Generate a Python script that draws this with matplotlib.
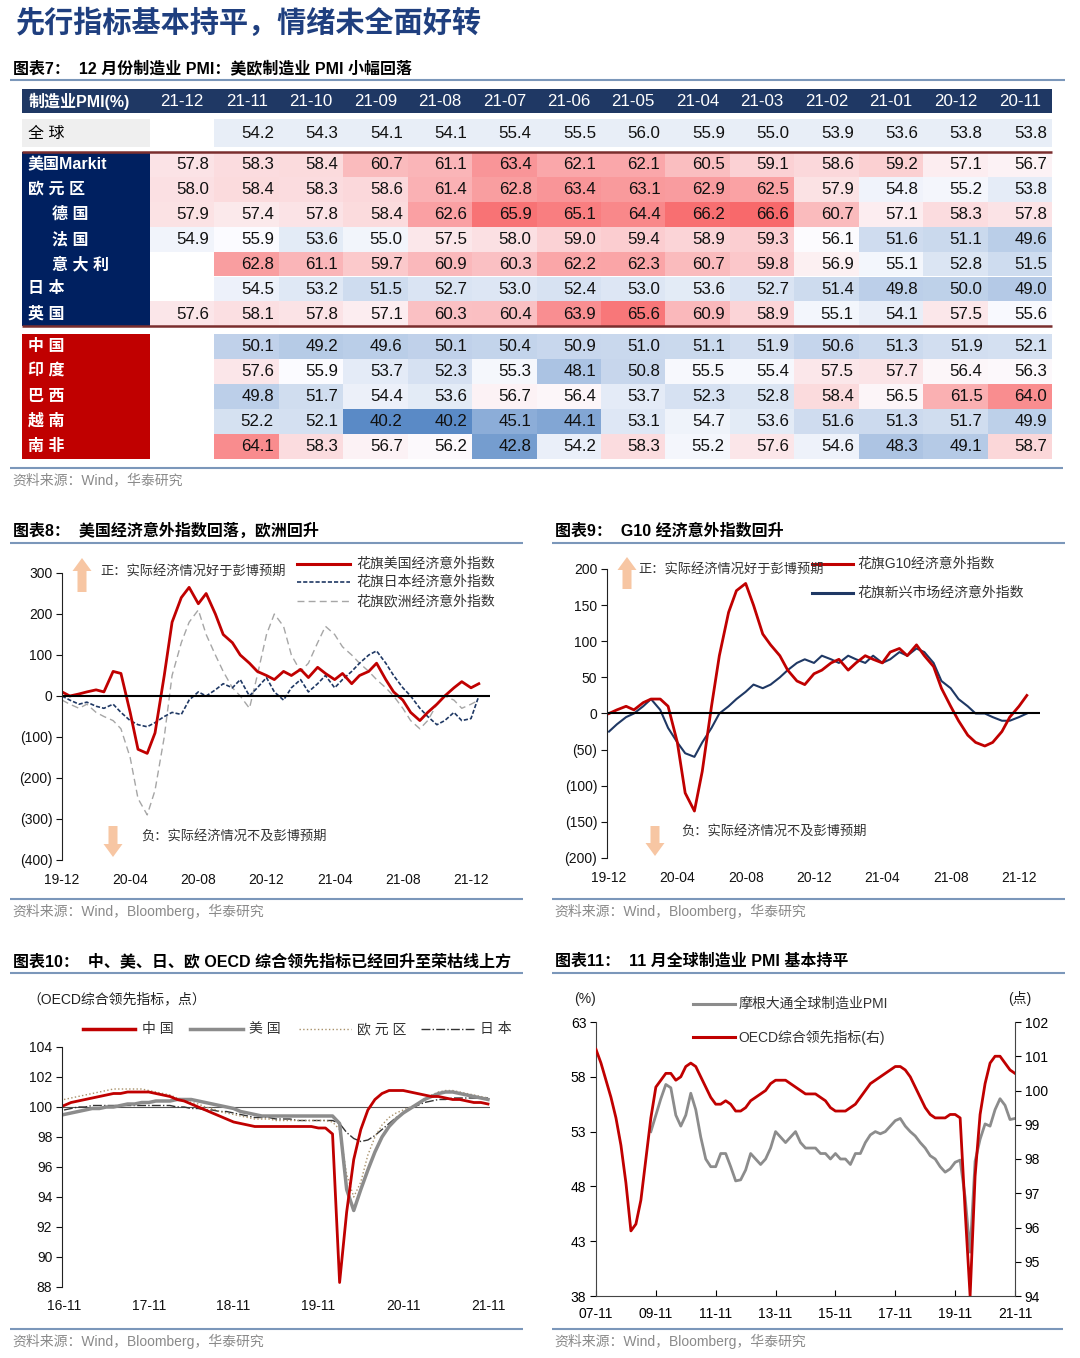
import numpy as np
import pandas as pd
import matplotlib
matplotlib.use('Agg')
import matplotlib.pyplot as plt
from matplotlib.patches import Rectangle, FancyArrow

plt.rcParams['font.family'] = ['Liberation Sans', 'Noto Sans CJK SC', 'DejaVu Sans']
plt.rcParams['axes.unicode_minus'] = False

W, H = 1080, 1358
nan = np.nan

# ---------------- Table (chart 7) data ----------------
table_cols = ['21-12', '21-11', '21-10', '21-09', '21-08', '21-07', '21-06',
              '21-05', '21-04', '21-03', '21-02', '21-01', '20-12', '20-11']
global_pmi = [nan, 54.2, 54.3, 54.1, 54.1, 55.4, 55.5, 56.0, 55.9, 55.0, 53.9, 53.6, 53.8, 53.8]
dev_labels = ['美国Markit', '欧元区', '德国', '法国', '意大利', '日本', '英国']
us_markit = [57.8, 58.3, 58.4, 60.7, 61.1, 63.4, 62.1, 62.1, 60.5, 59.1, 58.6, 59.2, 57.1, 56.7]
eurozone = [58.0, 58.4, 58.3, 58.6, 61.4, 62.8, 63.4, 63.1, 62.9, 62.5, 57.9, 54.8, 55.2, 53.8]
germany = [57.9, 57.4, 57.8, 58.4, 62.6, 65.9, 65.1, 64.4, 66.2, 66.6, 60.7, 57.1, 58.3, 57.8]
france = [54.9, 55.9, 53.6, 55.0, 57.5, 58.0, 59.0, 59.4, 58.9, 59.3, 56.1, 51.6, 51.1, 49.6]
italy = [nan, 62.8, 61.1, 59.7, 60.9, 60.3, 62.2, 62.3, 60.7, 59.8, 56.9, 55.1, 52.8, 51.5]
japan = [nan, 54.5, 53.2, 51.5, 52.7, 53.0, 52.4, 53.0, 53.6, 52.7, 51.4, 49.8, 50.0, 49.0]
uk = [57.6, 58.1, 57.8, 57.1, 60.3, 60.4, 63.9, 65.6, 60.9, 58.9, 55.1, 54.1, 57.5, 55.6]
em_labels = ['中国', '印度', '巴西', '越南', '南非']
china = [nan, 50.1, 49.2, 49.6, 50.1, 50.4, 50.9, 51.0, 51.1, 51.9, 50.6, 51.3, 51.9, 52.1]
india = [nan, 57.6, 55.9, 53.7, 52.3, 55.3, 48.1, 50.8, 55.5, 55.4, 57.5, 57.7, 56.4, 56.3]
brazil = [nan, 49.8, 51.7, 54.4, 53.6, 56.7, 56.4, 53.7, 52.3, 52.8, 58.4, 56.5, 61.5, 64.0]
vietnam = [nan, 52.2, 52.1, 40.2, 40.2, 45.1, 44.1, 53.1, 54.7, 53.6, 51.6, 51.3, 51.7, 49.9]
safrica = [nan, 64.1, 58.3, 56.7, 56.2, 42.8, 54.2, 58.3, 55.2, 57.6, 54.6, 48.3, 49.1, 58.7]
dev_rows = [us_markit, eurozone, germany, france, italy, japan, uk]
em_rows = [china, india, brazil, vietnam, safrica]

# ---------------- Chart 8 / 9 : Citi surprise indices (semi-monthly) ----------------
esi_dates = pd.date_range('2019-12-01', periods=50, freq='SMS')
us_esi = [10, 0, 5, 10, 15, 10, 60, 55, -40, -130, -140, -90, 50, 180, 240, 265, 225, 250, 200, 150,
          130, 100, 80, 60, 50, 40, 60, 50, 65, 45, 70, 55, 40, 55, 30, 50, 60, 80, 40, 10,
          -10, -40, -60, -40, -20, 0, 20, 35, 20, 30]
jp_esi = [0, -10, -20, -15, -25, -30, -20, -40, -60, -70, -75, -65, -50, -40, -45, -10, 10, 0, 15, 30,
          20, 40, 0, 20, 45, 10, -10, 20, 40, 10, 30, 50, 20, 40, 60, 80, 100, 110, 80, 50,
          20, 0, -30, -50, -70, -60, -40, -60, -55, 0]
eu_esi = [-10, -20, -30, -20, -40, -50, -60, -80, -150, -250, -290, -230, -100, 50, 130, 180, 210, 150, 100, 60,
          20, 0, -30, 50, 150, 200, 170, 100, 60, 80, 130, 170, 150, 120, 100, 80, 60, 40, 20, 0,
          -30, -60, -80, -60, -20, 0, -10, -30, -20, -10]
g10_esi = [0, 5, 10, 5, 15, 20, 20, 10, -40, -110, -135, -80, 10, 80, 140, 170, 180, 150, 110, 95,
           80, 60, 45, 40, 55, 60, 70, 75, 60, 70, 80, 75, 70, 85, 90, 80, 95, 80, 65, 35,
           10, -10, -30, -40, -45, -40, -25, -5, 10, 25]
em_esi = [-25, -15, -5, 0, 10, 20, 5, -20, -40, -55, -60, -40, -20, 0, 10, 20, 30, 40, 35, 40,
          50, 60, 70, 75, 70, 80, 75, 70, 80, 75, 70, 80, 70, 75, 85, 80, 90, 85, 70, 45,
          35, 20, 10, 0, 0, -5, -10, -10, -5, 0]
esi8_ticks = ['19-12', '20-04', '20-08', '20-12', '21-04', '21-08', '21-12']

# ---------------- Chart 10 : OECD CLI (monthly) ----------------
cli_dates = pd.date_range('2016-11-01', '2021-11-01', freq='MS')
cli_cn = [100.1, 100.3,
          100.4, 100.5, 100.6, 100.7, 100.8, 100.9, 100.9, 101.0, 101.0, 101.0, 101.0, 100.9,
          100.8, 100.7, 100.5, 100.4, 100.2, 100.0, 99.8, 99.6, 99.4, 99.2, 99.0, 98.9,
          98.8, 98.7, 98.7, 98.7, 98.7, 98.7, 98.7, 98.7, 98.7, 98.7, 98.6, 98.6,
          98.2, 88.3, 93.0, 96.5, 98.5, 99.8, 100.5, 100.9, 101.1, 101.1, 101.1, 101.0,
          100.9, 100.8, 100.7, 100.7, 100.6, 100.5, 100.5, 100.4, 100.3, 100.3, 100.2]
cli_us = [99.5, 99.6,
          99.7, 99.8, 99.9, 99.9, 100.0, 100.0, 100.1, 100.2, 100.2, 100.3, 100.3, 100.4,
          100.4, 100.4, 100.5, 100.5, 100.5, 100.4, 100.3, 100.2, 100.1, 100.0, 99.9, 99.7,
          99.6, 99.5, 99.4, 99.4, 99.4, 99.4, 99.4, 99.4, 99.4, 99.4, 99.4, 99.4,
          99.4, 98.9, 94.5, 93.1, 94.5, 95.8, 97.0, 98.0, 98.7, 99.2, 99.6, 99.9,
          100.2, 100.5, 100.7, 100.9, 101.0, 101.0, 100.9, 100.8, 100.7, 100.6, 100.5]
cli_eu = [100.5, 100.6,
          100.7, 100.8, 100.9, 101.0, 101.1, 101.2, 101.2, 101.2, 101.2, 101.2, 101.1, 101.0,
          100.9, 100.8, 100.6, 100.5, 100.3, 100.2, 100.0, 99.9, 99.7, 99.6, 99.5, 99.4,
          99.3, 99.2, 99.2, 99.2, 99.1, 99.1, 99.1, 99.1, 99.1, 99.1, 99.1, 99.1,
          99.0, 98.5, 95.5, 94.0, 95.0, 96.8, 98.0, 98.8, 99.3, 99.6, 99.8, 100.0,
          100.2, 100.5, 100.8, 101.0, 101.1, 101.1, 101.0, 100.9, 100.8, 100.7, 100.6]
cli_jp = [99.8, 99.9,
          100.0, 100.0, 100.1, 100.1, 100.1, 100.1, 100.1, 100.1, 100.1, 100.1, 100.1, 100.1,
          100.1, 100.1, 100.0, 100.0, 99.9, 99.9, 99.8, 99.8, 99.7, 99.7, 99.6, 99.5,
          99.4, 99.3, 99.3, 99.3, 99.2, 99.2, 99.2, 99.1, 99.1, 99.1, 99.1, 99.1,
          99.1, 98.9, 98.3, 97.9, 97.7, 97.8, 98.1, 98.5, 98.9, 99.3, 99.6, 99.9,
          100.1, 100.3, 100.4, 100.5, 100.5, 100.6, 100.6, 100.6, 100.6, 100.6, 100.6]
cli_ticks = ['16-11', '17-11', '18-11', '19-11', '20-11', '21-11']

# ---------------- Chart 11 : JPM global PMI & OECD CLI (bi-monthly) ----------------
g_dates = pd.date_range('2007-11-01', '2021-11-01', freq='2MS')
oecd_cli = [101.2,
            100.8, 100.3, 99.8, 99.2, 98.4, 97.3,
            95.9, 96.1, 96.8, 98.0, 99.2, 100.1,
            100.3, 100.5, 100.5, 100.3, 100.4, 100.7,
            100.8, 100.7, 100.4, 100.1, 99.8, 99.6,
            99.6, 99.7, 99.6, 99.4, 99.4, 99.5,
            99.7, 99.8, 99.9, 100.0, 100.2, 100.3,
            100.3, 100.3, 100.2, 100.1, 100.0, 99.9,
            99.9, 99.9, 99.8, 99.7, 99.5, 99.4,
            99.4, 99.4, 99.5, 99.6, 99.8, 100.0,
            100.2, 100.3, 100.4, 100.5, 100.6, 100.7,
            100.7, 100.6, 100.4, 100.1, 99.8, 99.5,
            99.3, 99.2, 99.2, 99.2, 99.3, 99.3,
            99.2, 96.5, 94.0, 97.5, 99.3, 100.2,
            100.8, 101.0, 101.0, 100.8, 100.6, 100.5]
jpm_pmi = [nan,
           nan, nan, nan, nan, nan, nan,
           nan, nan, nan, nan, 53.0, 54.5,
           56.0, 57.3, 57.0, 54.5, 53.5, 54.5,
           56.5, 55.0, 52.5, 50.5, 49.8, 49.8,
           51.0, 51.0, 49.8, 48.5, 48.6, 49.5,
           51.0, 50.5, 50.0, 50.5, 51.5, 53.0,
           52.5, 52.0, 52.5, 53.0, 52.0, 51.5,
           51.5, 51.5, 51.0, 51.0, 50.5, 51.0,
           50.5, 50.5, 50.0, 51.0, 51.0, 52.0,
           52.7, 53.0, 52.8, 53.0, 53.5, 54.0,
           54.2, 53.5, 53.0, 52.6, 52.0, 51.5,
           50.8, 50.5, 49.8, 49.3, 49.6, 50.2,
           50.4, 47.0, 42.0, 50.3, 52.3, 53.7,
           53.5, 55.0, 56.0, 55.4, 54.1, 54.2]
g_ticks = ['07-11', '09-11', '11-11', '13-11', '15-11', '17-11', '19-11', '21-11']

# ================= drawing =================
RED = '#c00000'
NAVY = '#1f3864'
GRAY = '#8c8c8c'
LINEC = '#7b97ba'
SRC = '#8a8a8a'

fig = plt.figure(figsize=(W / 100, H / 100), dpi=100)
cv = fig.add_axes([0, 0, 1, 1])
cv.set_xlim(0, W)
cv.set_ylim(H, 0)
cv.axis('off')


def txt(x, y, s, size=10, color='black', weight='normal', ha='left', va='center', **kw):
    cv.text(x, y, s, fontsize=size, color=color, fontweight=weight, ha=ha, va=va, **kw)


def hline(y, x0, x1, color=LINEC, lw=1.5, **kw):
    cv.plot([x0, x1], [y, y], color=color, lw=lw, solid_capstyle='butt', **kw)


def spaced(s):
    return ' '.join(list(s)) if all(ord(c) > 255 for c in s) else s


# Title
txt(16, 23, '先行指标基本持平，情绪未全面好转', size=21, color='#1f3f7f', weight='bold')
txt(13, 68, '图表7：  12 月份制造业 PMI：美欧制造业 PMI 小幅回落', size=11.5, weight='bold')
hline(80, 10, 1065)

# ---- table ----
tx0, tx1, lx0 = 150, 1052, 22
ncol = len(table_cols)
cw = (tx1 - tx0) / ncol
allv = np.array(dev_rows + em_rows, dtype=float)
vmin, vmax, vmid = np.nanmin(allv), np.nanmax(allv), 56.0
c_white = np.array([252, 252, 255]) / 255
c_blue = np.array([90, 138, 198]) / 255
c_red = np.array([248, 105, 107]) / 255


def cell_color(v):
    if np.isnan(v):
        return (1, 1, 1)
    if v <= vmid:
        t = (vmid - v) / (vmid - vmin)
        return tuple(c_white + t * (c_blue - c_white))
    t = (v - vmid) / (vmax - vmid)
    return tuple(c_white + t * (c_red - c_white))


FS_T = 12.2
# header
cv.add_patch(Rectangle((lx0, 89), tx1 - lx0, 24, color=NAVY, lw=0))
txt(29, 101.5, '制造业PMI(%)', size=11.5, color='white', weight='bold')
for j, c in enumerate(table_cols):
    txt(tx0 + cw * (j + 0.5), 101.5, c, size=FS_T, color='white', ha='center')


def draw_cells(y0, h, vals, fixed=None):
    for j, v in enumerate(vals):
        if np.isnan(v):
            continue
        col = fixed if fixed is not None else cell_color(v)
        cv.add_patch(Rectangle((tx0 + cw * j, y0), cw, h, color=col, lw=0))
        txt(tx0 + cw * (j + 1) - 5, y0 + h / 2 + 0.5, f'{v:.1f}', size=FS_T, color='#111111', ha='right')


# global row
cv.add_patch(Rectangle((lx0, 119), tx0 - lx0, 28, color='#efefef', lw=0))
txt(28, 133, spaced('全球'), size=11.5, color='black')
draw_cells(119, 28, global_pmi, fixed='#e8eef7')

# developed
dy0, dh = 152, 24.9
cv.add_patch(Rectangle((lx0, dy0), tx0 - lx0, dh * len(dev_rows), color='#002060', lw=0))
indent = {'德国', '法国', '意大利'}
for i, (lab, vals) in enumerate(zip(dev_labels, dev_rows)):
    y = dy0 + dh * i
    draw_cells(y, dh, vals)
    txt(52 if lab in indent else 28, y + dh / 2, spaced(lab), size=11.5, color='white', weight='bold')
hline(dy0, lx0, tx1, color='#7a2e2e', lw=1.8)
hline(dy0 + dh * len(dev_rows), lx0, tx1, color='#7a2e2e', lw=1.8)

# emerging
ey0, eh = 333.5, 25.0
cv.add_patch(Rectangle((lx0, ey0), tx0 - lx0, eh * len(em_rows), color=RED, lw=0))
for i, (lab, vals) in enumerate(zip(em_labels, em_rows)):
    y = ey0 + eh * i
    draw_cells(y, eh, vals)
    txt(28, y + eh / 2, spaced(lab), size=11.5, color='white', weight='bold')

hline(468, 10, 1063)
txt(12, 480, '资料来源：Wind，华泰研究', size=10, color=SRC)


# ---- helpers for charts ----
def px_axes(x0, y0, x1, y1):
    ax = fig.add_axes([x0 / W, 1 - y1 / H, (x1 - x0) / W, (y1 - y0) / H])
    ax.patch.set_alpha(0)
    return ax


def months_since(dates, y0, m0):
    return np.array([(d.year - y0) * 12 + (d.month - m0) + (d.day - 1) / 30.5 for d in dates])


def paren(v):
    v = int(round(v))
    return f'({abs(v)})' if v < 0 else f'{v}'


def style_left(ax):
    for s in ['top', 'right', 'bottom']:
        ax.spines[s].set_visible(False)
    ax.spines['left'].set_color('#222222')
    ax.spines['left'].set_linewidth(0.8)
    ax.tick_params(axis='y', direction='out', length=4, width=0.8, labelsize=10, pad=3, colors='#111111')
    ax.tick_params(axis='x', length=0, labelsize=10, pad=9, colors='#111111')


def up_arrow(x, y_tail, y_tip):
    cv.add_patch(FancyArrow(x, y_tail, 0, y_tip - y_tail, width=9, head_width=19, head_length=13,
                            length_includes_head=True, color='#f7c6a3', lw=0))


# ---- Chart 8 ----
txt(13, 531, '图表8：  美国经济意外指数回落，欧洲回升', size=11.5, weight='bold')
hline(543, 10, 523)
ax8 = px_axes(62, 573, 490, 860)
pxm8 = (471 - 62) / 24
m8 = months_since(esi_dates, 2019, 12)
ax8.plot(m8, eu_esi, color='#a6a6a6', lw=1.0, dashes=(5, 3))
ax8.plot(m8, jp_esi, color=NAVY, lw=1.2, dashes=(2.5, 1.2))
ax8.plot(m8, us_esi, color=RED, lw=2.0)
ax8.axhline(0, color='black', lw=1.5)
ax8.set_xlim(0, (490 - 62) / pxm8)
ax8.set_ylim(-400, 300)
ax8.set_yticks(range(-400, 301, 100))
ax8.set_yticklabels([paren(v) for v in range(-400, 301, 100)])
ax8.set_xticks(range(0, 25, 4))
ax8.set_xticklabels(esi8_ticks)
style_left(ax8)

up_arrow(82, 592, 558)
txt(100, 572, '正：实际经济情况好于彭博预期', size=9.5, color='#333333')
up_arrow(113, 826, 857)
txt(141, 837, '负：实际经济情况不及彭博预期', size=9.5, color='#333333')
cv.plot([297, 350], [564, 564], color=RED, lw=2.2)
cv.plot([297, 350], [582, 582], color=NAVY, lw=1.2, dashes=(2.5, 1.2))
cv.plot([297, 350], [601, 601], color='#a6a6a6', lw=1.0, dashes=(5, 3))
txt(356, 564, '花旗美国经济意外指数', size=10, color='#333333')
txt(356, 582, '花旗日本经济意外指数', size=10, color='#333333')
txt(356, 601, '花旗欧洲经济意外指数', size=10, color='#333333')
hline(899, 10, 523)
txt(12, 911, '资料来源：Wind，Bloomberg，华泰研究', size=10, color=SRC)

# ---- Chart 9 ----
txt(555, 531, '图表9：  G10 经济意外指数回升', size=11.5, weight='bold')
hline(543, 552, 1065)
ax9 = px_axes(607, 569, 1040, 858)
pxm9 = (1019 - 609) / 24
ax9.plot(m8, em_esi, color=NAVY, lw=1.5)
ax9.plot(m8, g10_esi, color=RED, lw=2.0)
ax9.axhline(0, color='black', lw=1.5)
ax9.set_xlim((607 - 609) / pxm9, (1040 - 609) / pxm9)
ax9.set_ylim(-200, 200)
ax9.set_yticks(range(-200, 201, 50))
ax9.set_yticklabels([paren(v) for v in range(-200, 201, 50)])
ax9.set_xticks(range(0, 25, 4))
ax9.set_xticklabels(esi8_ticks)
style_left(ax9)

up_arrow(627, 589, 557)
txt(638, 570, '正：实际经济情况好于彭博预期', size=9.5, color='#333333')
up_arrow(655, 826, 856)
txt(681, 832, '负：实际经济情况不及彭博预期', size=9.5, color='#333333')
cv.plot([812, 853], [564, 564], color=RED, lw=2.2)
cv.plot([812, 853], [593, 593], color=NAVY, lw=2.2)
txt(857, 564, '花旗G10经济意外指数', size=10, color='#333333')
txt(857, 593, '花旗新兴市场经济意外指数', size=10, color='#333333')
hline(899, 552, 1065)
txt(554, 911, '资料来源：Wind，Bloomberg，华泰研究', size=10, color=SRC)

# ---- Chart 10 ----
txt(13, 961, '图表10：  中、美、日、欧 OECD 综合领先指标已经回升至荣枯线上方', size=11.5, weight='bold')
hline(973, 10, 523)
txt(27, 999, '（OECD综合领先指标，点）', size=10, color='#222222')
ax10 = px_axes(62, 1047, 490, 1287)
pxm10 = (488 - 64) / 60
m10 = months_since(cli_dates, 2016, 11)
ax10.axhline(100, color='#555555', lw=0.8, zorder=1)
ax10.plot(m10, cli_jp, color='#333333', lw=1.0, linestyle='-.')
ax10.plot(m10, cli_eu, color='#a8916a', lw=1.0, linestyle=':')
ax10.plot(m10, cli_us, color=GRAY, lw=2.5)
ax10.plot(m10, cli_cn, color=RED, lw=2.0)
ax10.set_xlim((62 - 64) / pxm10, (490 - 64) / pxm10)
ax10.set_ylim(88, 104)
ax10.set_yticks(range(88, 105, 2))
ax10.set_xticks(range(0, 61, 12))
ax10.set_xticklabels(cli_ticks)
style_left(ax10)

cv.plot([83, 135], [1029, 1029], color=RED, lw=2.5)
txt(142, 1029, spaced('中国'), size=10, color='#333333')
cv.plot([190, 243], [1029, 1029], color=GRAY, lw=2.5)
txt(249, 1029, spaced('美国'), size=10, color='#333333')
cv.plot([299, 351], [1029, 1029], color='#a8916a', lw=1.0, linestyle=':')
txt(357, 1029, spaced('欧元区'), size=10, color='#333333')
cv.plot([421, 474], [1029, 1029], color='#333333', lw=1.0, linestyle='-.')
txt(480, 1029, spaced('日本'), size=10, color='#333333')
hline(1329, 10, 523)
txt(12, 1341, '资料来源：Wind，Bloomberg，华泰研究', size=10, color=SRC)

# ---- Chart 11 ----
txt(555, 961, '图表11：  11 月全球制造业 PMI 基本持平', size=11.5, weight='bold')
hline(973, 552, 1065)
ax11 = px_axes(596, 1022, 1015, 1296)
m11 = months_since(g_dates, 2007, 11)
ax11.plot(m11, jpm_pmi, color=GRAY, lw=2.0)
ax11.set_xlim(0, 168)
ax11.set_ylim(38, 63)
ax11.set_yticks([38, 43, 48, 53, 58, 63])
ax11.set_xticks(range(0, 169, 24))
ax11.set_xticklabels(g_ticks)
ax11r = ax11.twinx()
ax11r.patch.set_alpha(0)
ax11r.plot(m11, oecd_cli, color=RED, lw=2.0)
ax11r.set_ylim(94, 102)
ax11r.set_yticks(range(94, 103, 1))
ax11r.set_xlim(0, 168)
for a in (ax11, ax11r):
    a.spines['top'].set_visible(False)
    for s in ['left', 'right', 'bottom']:
        a.spines[s].set_color('#444444')
        a.spines[s].set_linewidth(0.8)
ax11.spines['right'].set_visible(False)
ax11r.spines['left'].set_visible(False)
ax11r.spines['bottom'].set_visible(False)
ax11.tick_params(axis='y', direction='out', length=4, width=0.8, labelsize=10, pad=3)
ax11.tick_params(axis='x', direction='in', length=4, width=0.8, labelsize=10, pad=8)
ax11r.tick_params(axis='y', direction='out', length=4, width=0.8, labelsize=10, pad=3)
txt(585, 999, '(%)', size=10, color='#222222', ha='center')
txt(1020, 999, '(点)', size=10, color='#222222', ha='center')
cv.plot([693, 735], [1004, 1004], color=GRAY, lw=2.2)
txt(739, 1004, '摩根大通全球制造业PMI', size=10, color='#333333')
cv.plot([693, 735], [1037, 1037], color=RED, lw=2.2)
txt(738, 1037, 'OECD综合领先指标(右)', size=10, color='#333333')
hline(1329, 552, 1063)
txt(554, 1341, '资料来源：Wind，Bloomberg，华泰研究', size=10, color=SRC)

fig.savefig('out.png', dpi=100)
